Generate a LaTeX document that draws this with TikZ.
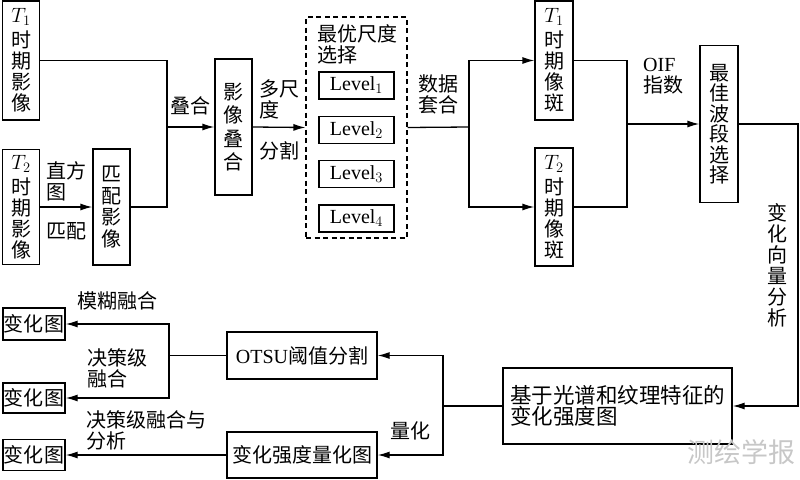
\documentclass[tikz,border=0pt]{standalone}
\usepackage{fontspec}
\setmainfont{Liberation Serif}
\newfontfamily\cjk{Noto Sans CJK SC}
\usetikzlibrary{arrows.meta,positioning}
\newcommand{\zh}{\cjk\fontsize{20}{21}\selectfont}

\begin{document}
\begin{tikzpicture}[
  x=1pt,y=-1pt,
  node distance=16pt,
  vbox/.style={draw,line width=1.3pt,align=center,inner sep=0pt,minimum width=37pt,font=\zh},
  hbox/.style={draw,line width=1.3pt,align=center,inner sep=0pt,font=\zh},
  lvbox/.style={draw,line width=1.3pt,inner sep=0pt,minimum width=75pt,minimum height=27pt,font=\rmfamily\fontsize{20}{22}\selectfont},
  lbl/.style={align=left,inner sep=1pt,font=\zh},
  arr/.style={-{Latex[length=12pt,width=7pt]},line width=1.3pt},
  ln/.style={line width=1.3pt}
]
\useasboundingbox (0,0) rectangle (800,479);
\node[vbox,minimum height=119pt] (t1) at (21,60.5) {$T_1$\\[4pt]时\\期\\影\\像};
\node[vbox,minimum height=115pt] (t2) at (21,207) {$T_2$\\[4pt]时\\期\\影\\像};
\node[vbox,minimum height=116pt,font=\cjk\fontsize{20}{21.5}\selectfont] (match) at (111.5,207) {匹\\配\\影\\像};
\node[vbox,minimum height=136pt,font=\cjk\fontsize{20}{23.5}\selectfont] (stack) at (233.5,127) {影\\像\\叠\\合};
\node[draw,line width=1.1pt,dash pattern=on 5pt off 3.5pt,minimum width=101pt,minimum height=221pt,inner sep=0pt] (scale) at (356.5,127.5) {};
\node[lbl,anchor=north west,inner sep=0pt] (title) at (317,24) {最优尺度\\选择};
\node[lvbox] (lv1) at (356.5,85.5) {Level$_1$};
\node[lvbox,below=of lv1] (lv2) {Level$_2$};
\node[lvbox,below=of lv2] (lv3) {Level$_3$};
\node[lvbox,below=of lv3] (lv4) {Level$_4$};
\node[vbox,minimum width=38pt,minimum height=119pt] (t1p) at (554,60.5) {$T_1$\\[4pt]时\\期\\像\\斑};
\node[vbox,minimum width=38pt,minimum height=118pt] (t2p) at (554,207) {$T_2$\\[4pt]时\\期\\像\\斑};
\node[vbox,minimum width=38pt,minimum height=157pt,font=\cjk\fontsize{20}{20.5}\selectfont] (best) at (719,124) {最\\佳\\波\\段\\选\\择};
\node[hbox,align=left,minimum width=229pt,minimum height=76pt,font=\cjk\fontsize{21.5}{21.5}\selectfont] (inten) at (617.5,406) {基于光谱和纹理特征的\\变化强度图};
\node[hbox,minimum width=150pt,minimum height=47pt] (otsu) at (302,355.5) {{\rmfamily OTSU}阈值分割};
\node[hbox,minimum width=150pt,minimum height=46pt] (quant) at (302,455) {变化强度量化图};
\node[hbox,minimum width=62pt,minimum height=32pt] (cm1) at (34,324) {变化图};
\node[hbox,minimum width=62pt,minimum height=30pt] (cm2) at (34,398) {变化图};
\node[hbox,minimum width=62pt,minimum height=31pt] (cm3) at (34,455) {变化图};
\node[lbl] (dec) at (117,368.5) {决策级\\融合};
\node[font=\cjk\fontsize{27}{27}\selectfont,text=black!22] (mark) at (741,452) {测绘学报};
\coordinate (j1) at (167,127);
\coordinate (j2) at (469,127);
\coordinate (j3) at (627,124);
\coordinate (j4) at (798,124);
\coordinate (j5) at (443,406);
\coordinate (j6) at (169,355.5);
\draw[ln] (t1.east) -| (j1) |- (match.east);
\draw[arr] (t2.east) -- node[lbl,above=4pt]{直方\\图} node[lbl,below=14pt]{匹配} (match.west);
\draw[arr] (j1) -- node[lbl,above=10pt]{叠合} (stack.west);
\draw[arr] (stack.east) -- node[lbl,above=7pt]{多尺\\度} node[lbl,below=13pt]{分割} (scale.west);
\draw[ln] (scale.east) -- node[lbl,above=12pt]{数据\\套合} (j2);
\draw[arr] (j2) |- (t1p.west);
\draw[arr] (j2) |- (t2p.west);
\draw[ln] (t1p.east) -| (j3) |- (t2p.east);
\draw[arr] (j3) -- node[lbl,above=28pt]{{\rmfamily OIF}\\指数} (best.west);
\draw[arr] (best.east) -- (j4) |- node[lbl,pos=0.25,left=9pt,align=center]{变\\化\\向\\量\\分\\析} (inten.east);
\draw[ln] (inten.west) -- (j5);
\draw[arr] (j5) |- (otsu.east);
\draw[arr] (j5) |- node[lbl,pos=0.75,above=13pt]{量化} (quant.east);
\draw[ln] (otsu.west) -- (j6);
\draw[arr] (j6) |- node[lbl,pos=0.75,above=12pt]{模糊融合} (cm1.east);
\draw[arr] (j6) |- (cm2.east);
\draw[arr] (quant.west) -- node[lbl,above=3pt]{决策级融合与\\分析} (cm3.east);
\end{tikzpicture}
\end{document}
